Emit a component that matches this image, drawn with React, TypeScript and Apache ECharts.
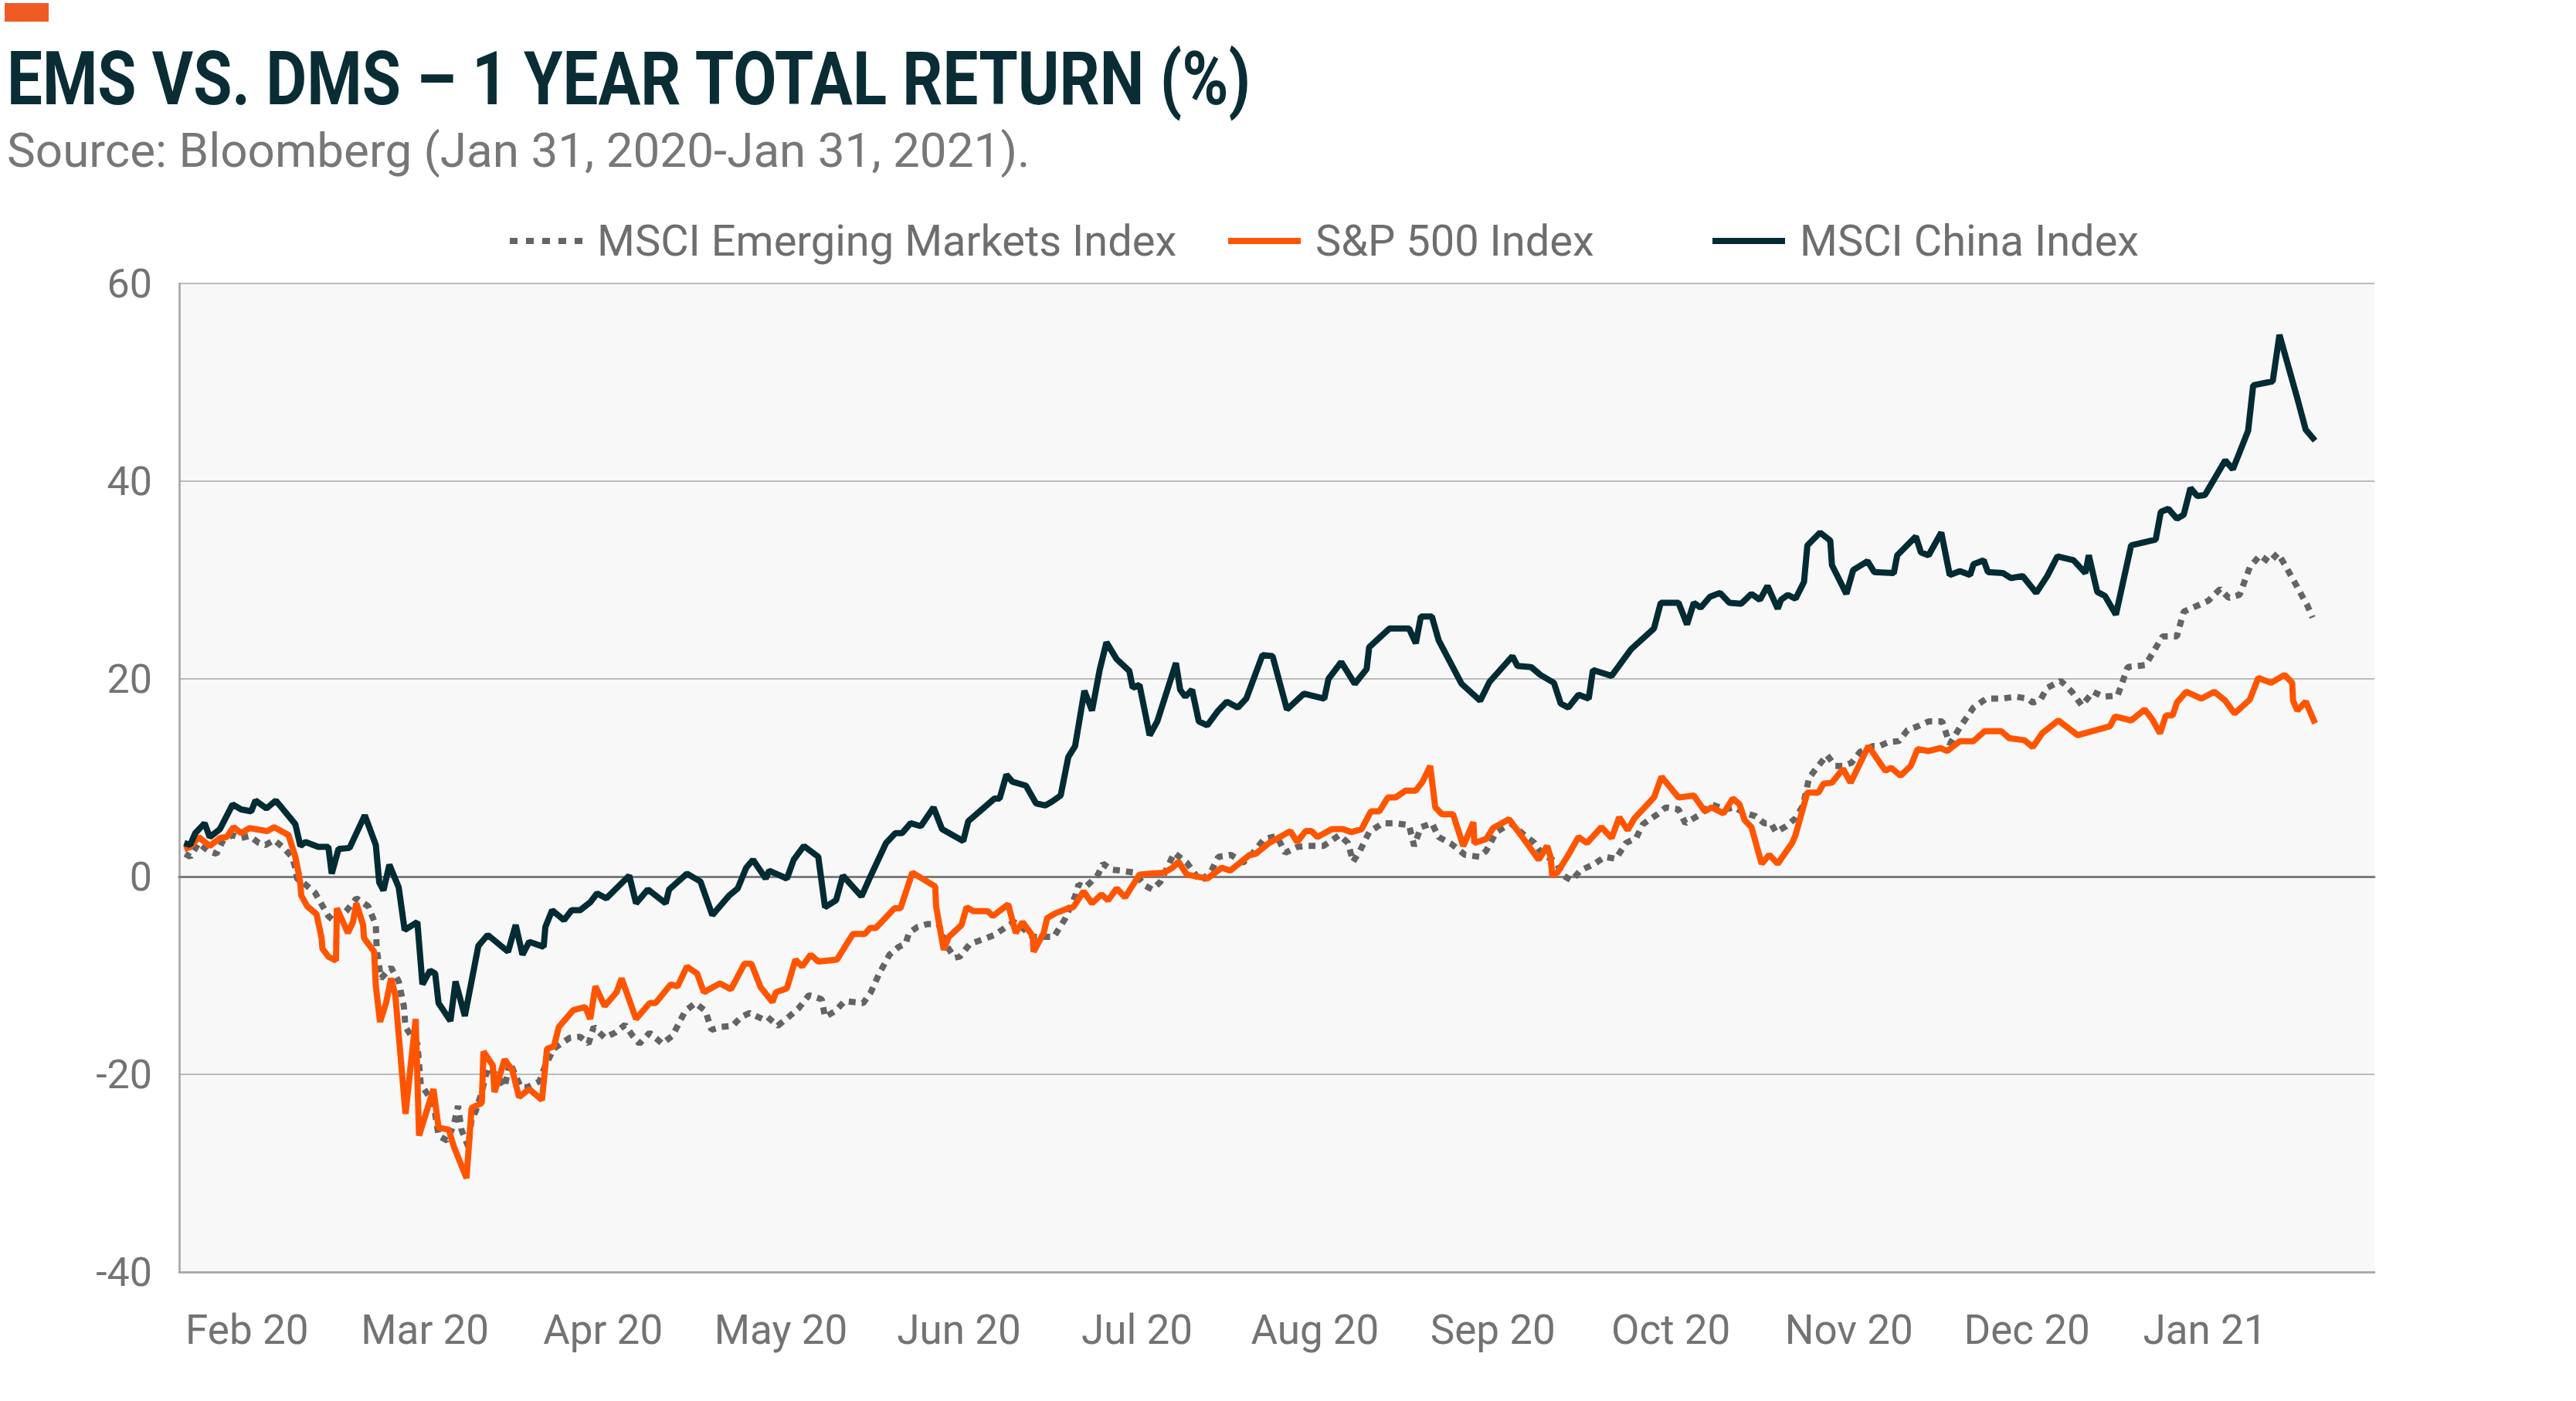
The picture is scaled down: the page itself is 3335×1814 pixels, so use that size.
import React, { useEffect, useRef } from "react";
import * as echarts from "echarts";

// x = trading-day index from Jan 31, 2020 ; y = total return (%)
const monthLabels = ["Feb 20", "Mar 20", "Apr 20", "May 20", "Jun 20", "Jul 20", "Aug 20", "Sep 20", "Oct 20", "Nov 20", "Dec 20", "Jan 21"];
const monthLabelDays = [8, 29, 50, 71, 92, 113, 134, 155, 176, 197, 218, 239];
const yTicks = [-40, -20, 0, 20, 40, 60];

const seriesNames = ["MSCI Emerging Markets Index", "S&P 500 Index", "MSCI China Index"];

const emIndex: [number, number][] = [
  [0.7, 2.3], [1.3, 2.0], [2.3, 3.4], [3.4, 2.6], [4.4, 2.3], [5.2, 3.7], [6.3, 4.2], [7.3, 3.9], [8.3, 4.1], [9.4, 3.4],
  [10.2, 3.2], [11.2, 3.7], [12.2, 3.0], [13.3, 2.0], [13.7, 0.9], [13.9, -0.2], [14.9, -0.8], [16.0, -1.6], [17.6, -4.0], [18.4, -4.6],
  [19.7, -3.5], [20.9, -2.2], [22.3, -3.0], [23.2, -4.9], [23.3, -7.3], [23.8, -10.3], [25.0, -9.2], [25.9, -10.6], [26.5, -13.1], [26.7, -15.2],
  [27.5, -16.3], [28.1, -16.9], [28.5, -21.0], [30.0, -22.9], [30.6, -26.2], [31.6, -26.7], [32.4, -25.1], [32.9, -23.2], [33.3, -25.6], [34.1, -27.3],
  [34.5, -24.5], [35.0, -23.7], [35.7, -21.8], [36.4, -19.3], [37.6, -20.2], [38.4, -21.3], [39.0, -18.8], [40.3, -21.3], [41.1, -21.3], [42.5, -20.7],
  [43.2, -19.1], [44.2, -17.4], [46.1, -16.3], [47.3, -16.2], [48.3, -16.9], [48.9, -15.2], [50.2, -16.3], [51.4, -15.8], [52.6, -15.0], [53.5, -16.1],
  [54.3, -16.9], [55.5, -15.8], [57.0, -16.9], [58.2, -16.1], [59.7, -13.6], [60.9, -12.8], [62.1, -13.6], [62.8, -15.5], [64.0, -15.2], [65.3, -15.1],
  [66.3, -14.2], [67.3, -13.8], [68.8, -14.4], [69.4, -14.2], [70.6, -15.1], [71.9, -14.2], [73.1, -13.3], [74.3, -12.0], [75.8, -12.4], [76.2, -14.2],
  [77.4, -13.6], [78.5, -12.6], [80.7, -12.8], [81.6, -11.7], [82.6, -9.8], [83.8, -7.9], [84.9, -7.1], [85.7, -6.8], [86.1, -5.7], [87.1, -5.1],
  [88.3, -4.8], [89.6, -4.8], [90.4, -6.8], [91.5, -8.2], [92.1, -8.1], [93.3, -6.8], [95.0, -6.3], [96.2, -5.9], [97.4, -5.2], [98.5, -4.6],
  [99.5, -5.2], [100.7, -6.1], [101.9, -6.1], [103.2, -6.1], [104.5, -4.3], [105.7, -2.0], [106.1, -0.8], [106.9, -1.1], [107.5, -0.6], [108.4, 0.2],
  [109.0, 1.3], [110.0, 0.7], [111.2, 0.6], [112.7, 0.4], [113.9, -0.9], [114.8, -1.3], [115.8, -0.5], [116.4, 0.6], [117.4, 2.4], [118.9, 1.4],
  [120.5, -0.5], [121.8, 0.6], [122.6, 2.0], [124.1, 2.2], [125.5, 1.4], [126.7, 2.4], [128.0, 3.8], [129.5, 4.1], [130.5, 2.4], [131.9, 3.0],
  [133.1, 3.1], [135.0, 3.1], [136.9, 4.2], [137.9, 3.4], [138.5, 1.5], [139.3, 2.6], [140.4, 4.5], [142.0, 5.4], [143.5, 5.4], [145.1, 5.2],
  [145.7, 3.1], [146.5, 5.0], [147.8, 5.4], [148.6, 4.0], [150.1, 3.3], [151.7, 2.2], [153.4, 2.0], [154.2, 2.6], [155.4, 4.5], [157.1, 5.4],
  [158.7, 4.2], [159.9, 3.4], [160.8, 2.3], [162.4, 1.5], [163.3, 0.1], [164.3, -0.4], [165.3, 0.6], [167.0, 1.3], [168.2, 2.0], [169.5, 1.8],
  [170.7, 3.4], [171.9, 3.9], [172.7, 5.3], [174.4, 6.3], [175.4, 7.0], [176.9, 6.8], [177.7, 5.4], [179.3, 6.2], [180.8, 7.3], [182.4, 6.8],
  [183.5, 7.0], [184.5, 6.5], [186.0, 6.1], [187.0, 5.4], [187.8, 5.4], [188.4, 4.5], [189.6, 5.1], [190.7, 5.9], [191.6, 7.2], [192.3, 10.0],
  [193.4, 11.2], [194.4, 12.3], [195.4, 11.2], [196.3, 11.2], [197.3, 11.5], [198.3, 12.6], [199.8, 13.2], [200.6, 13.2], [201.6, 13.6], [202.9, 13.7],
  [203.9, 14.8], [205.1, 15.2], [206.4, 15.7], [208.0, 15.7], [208.9, 13.4], [210.1, 15.1], [211.7, 17.1], [213.2, 18.0], [215.0, 18.0], [216.7, 18.2],
  [218.1, 18.0], [218.7, 17.6], [219.6, 17.9], [220.4, 19.1], [222.0, 19.8], [223.3, 18.7], [224.5, 17.3], [225.8, 18.7], [227.0, 18.2], [228.7, 18.3],
  [229.9, 21.2], [232.0, 21.4], [234.0, 24.3], [235.7, 24.3], [236.5, 26.8], [238.1, 27.4], [239.4, 27.9], [240.8, 29.1], [241.8, 28.2], [243.1, 28.5],
  [244.3, 31.3], [245.5, 32.5], [246.6, 31.8], [247.6, 32.7], [248.4, 31.6], [249.7, 29.6], [251.1, 27.4], [251.7, 26.2],
];

const sp500Index: [number, number][] = [
  [0.6, 2.8], [1.3, 3.0], [2.3, 4.0], [3.6, 3.1], [4.8, 3.9], [5.6, 4.0], [6.4, 5.0], [7.3, 4.4], [8.3, 4.9], [10.4, 4.6],
  [11.2, 5.0], [12.9, 4.2], [13.7, 2.0], [14.1, 0.3], [14.3, -0.8], [14.4, -1.9], [15.1, -3.0], [16.2, -3.8], [16.8, -6.2], [16.9, -7.3],
  [17.6, -8.1], [18.5, -8.5], [18.6, -3.2], [19.9, -5.7], [20.5, -4.6], [20.9, -2.7], [21.7, -4.9], [21.8, -6.2], [23.0, -7.6], [23.2, -11.1],
  [23.7, -14.7], [24.4, -12.8], [25.0, -10.3], [25.5, -12.0], [26.7, -24.0], [27.9, -14.4], [28.3, -26.2], [30.0, -21.5], [30.6, -25.4], [31.8, -25.6],
  [32.4, -27.3], [33.9, -30.5], [34.5, -23.4], [35.7, -22.9], [35.9, -17.7], [37.0, -19.1], [37.2, -21.8], [38.4, -18.5], [39.3, -19.6], [40.1, -22.3],
  [41.3, -21.5], [42.8, -22.6], [43.4, -17.4], [44.2, -17.2], [44.8, -15.2], [46.5, -13.5], [47.9, -13.2], [48.5, -14.4], [49.1, -11.1], [50.2, -13.1],
  [51.6, -11.7], [52.2, -10.3], [53.9, -14.4], [55.5, -12.8], [56.2, -12.8], [58.0, -10.9], [58.8, -11.1], [59.9, -9.1], [61.1, -9.8], [61.9, -11.7],
  [63.8, -10.8], [65.1, -11.4], [66.7, -8.8], [67.5, -8.8], [68.6, -11.2], [70.0, -12.7], [70.4, -11.7], [71.7, -11.3], [72.7, -8.4], [73.5, -9.1],
  [74.5, -7.9], [75.4, -8.6], [77.6, -8.4], [79.5, -5.8], [80.9, -5.8], [81.5, -5.2], [82.2, -5.2], [84.4, -3.2], [85.1, -3.2], [86.5, 0.4],
  [89.2, -1.0], [89.3, -3.0], [90.2, -7.4], [90.8, -6.1], [92.3, -4.9], [92.9, -3.1], [93.7, -3.5], [95.4, -3.5], [96.0, -4.0], [97.8, -2.8],
  [98.7, -5.7], [99.5, -4.6], [100.7, -6.0], [100.8, -7.6], [102.0, -5.7], [102.4, -4.2], [103.4, -3.7], [104.9, -3.2], [105.5, -3.1], [106.7, -1.5],
  [107.7, -2.7], [108.8, -1.8], [109.6, -2.4], [110.6, -1.2], [111.6, -2.1], [113.3, 0.2], [114.5, 0.3], [116.2, 0.4], [117.2, 0.9], [117.9, 1.5],
  [118.9, 0.2], [121.3, -0.2], [123.0, 0.9], [124.0, 0.6], [126.3, 2.2], [127.0, 2.3], [128.6, 3.4], [131.1, 4.6], [131.9, 3.5], [132.9, 4.6],
  [133.6, 4.6], [134.3, 4.0], [136.0, 4.8], [137.3, 4.8], [138.3, 4.5], [139.5, 4.8], [140.6, 6.6], [141.6, 6.6], [142.6, 8.0], [143.5, 8.0],
  [144.7, 8.7], [145.9, 8.7], [146.7, 9.6], [147.6, 11.2], [148.2, 7.0], [149.0, 6.3], [150.3, 6.3], [151.5, 3.1], [152.7, 5.5], [152.8, 3.4],
  [154.2, 3.8], [155.0, 4.9], [156.9, 5.8], [158.3, 4.2], [160.4, 1.7], [161.4, 3.1], [161.8, 2.0], [162.0, 0.1], [162.6, 0.4], [163.9, 2.2],
  [165.1, 4.0], [166.1, 3.4], [167.8, 5.0], [169.0, 3.9], [169.9, 6.0], [170.9, 4.7], [171.7, 5.9], [174.0, 8.0], [174.9, 10.1], [176.9, 8.0],
  [178.7, 8.2], [180.0, 6.6], [180.8, 7.0], [182.2, 6.4], [183.3, 7.9], [184.1, 7.3], [184.7, 5.7], [185.5, 5.0], [186.7, 1.3], [187.6, 2.2],
  [188.6, 1.3], [190.3, 3.4], [190.7, 4.2], [192.1, 8.5], [193.4, 8.5], [194.0, 9.4], [195.0, 9.5], [196.3, 10.9], [197.2, 9.5], [199.3, 13.2],
  [201.3, 10.7], [202.0, 11.0], [203.1, 10.2], [204.3, 11.2], [205.1, 12.9], [206.4, 12.7], [207.8, 13.0], [208.6, 12.7], [210.1, 13.7], [211.7, 13.7],
  [213.0, 14.7], [215.0, 14.7], [215.9, 14.0], [217.7, 13.8], [218.7, 13.1], [219.8, 14.5], [221.7, 15.8], [224.0, 14.3], [227.8, 15.2], [228.4, 16.2],
  [230.3, 15.8], [231.9, 16.9], [232.8, 15.9], [233.7, 14.5], [234.4, 16.3], [235.2, 16.3], [235.7, 17.6], [236.8, 18.7], [238.6, 18.0], [240.1, 18.7],
  [241.4, 17.8], [242.5, 16.5], [244.3, 17.9], [245.3, 20.1], [246.8, 19.6], [248.4, 20.4], [249.3, 19.6], [249.4, 17.8], [249.9, 16.8], [250.9, 17.7],
  [252.0, 15.5],
];

const chinaIndex: [number, number][] = [
  [0.6, 3.4], [1.3, 3.2], [1.9, 4.4], [3.0, 5.4], [3.6, 4.0], [4.8, 4.8], [6.3, 7.3], [7.3, 6.8], [8.5, 6.6], [9.0, 7.7],
  [10.3, 6.9], [11.4, 7.7], [13.7, 5.3], [14.3, 3.1], [14.9, 3.5], [16.4, 3.0], [17.6, 3.0], [18.0, 0.3], [18.8, 2.8], [20.1, 2.9],
  [21.9, 6.2], [23.2, 3.2], [23.6, -0.6], [24.1, -1.4], [24.8, 1.2], [25.9, -1.1], [26.6, -5.4], [28.1, -4.6], [28.7, -10.9], [29.6, -9.5],
  [30.2, -9.8], [30.6, -12.8], [32.0, -14.6], [32.6, -10.6], [33.7, -14.1], [35.3, -7.0], [36.4, -5.9], [38.8, -7.6], [39.7, -4.9], [40.5, -7.9],
  [41.3, -6.6], [43.0, -7.1], [43.2, -5.1], [44.0, -3.4], [45.4, -4.4], [46.3, -3.4], [47.3, -3.4], [48.5, -2.6], [49.3, -1.7], [50.4, -2.2],
  [53.1, 0.1], [53.9, -2.7], [55.3, -1.3], [57.4, -2.7], [57.8, -1.3], [59.9, 0.3], [61.5, -0.5], [62.9, -3.9], [64.9, -1.9], [65.9, -1.2],
  [66.9, 0.9], [67.7, 1.7], [69.2, -0.2], [69.6, 0.6], [71.7, -0.2], [72.5, 1.7], [73.7, 3.1], [75.4, 2.0], [76.2, -3.1], [77.5, -2.4],
  [78.3, 0.1], [80.5, -2.0], [81.6, 0.1], [83.4, 3.4], [84.5, 4.4], [85.3, 4.4], [86.3, 5.4], [87.5, 5.1], [89.0, 7.0], [90.0, 4.8],
  [92.5, 3.6], [93.1, 5.6], [96.2, 7.9], [96.8, 7.9], [97.6, 10.3], [98.3, 9.6], [99.9, 9.2], [101.1, 7.4], [102.2, 7.2], [103.0, 7.6],
  [104.0, 8.2], [104.9, 12.1], [105.7, 13.2], [106.8, 18.8], [107.7, 16.8], [108.6, 20.9], [109.4, 23.7], [110.6, 22.0], [112.1, 20.8], [112.5, 19.1],
  [113.3, 19.4], [114.5, 14.3], [115.4, 15.7], [117.6, 21.6], [118.1, 18.9], [118.7, 18.2], [119.5, 18.9], [120.3, 15.7], [121.3, 15.3], [122.6, 16.8],
  [123.6, 17.7], [124.9, 17.1], [125.9, 18.0], [127.8, 22.4], [129.0, 22.3], [130.7, 16.9], [132.7, 18.5], [135.1, 18.0], [135.6, 20.0], [137.1, 21.7],
  [138.7, 19.5], [140.1, 21.0], [140.4, 23.2], [142.8, 25.1], [145.1, 25.1], [145.9, 23.6], [146.5, 26.3], [147.8, 26.3], [148.6, 23.9], [151.3, 19.5],
  [153.5, 17.8], [154.6, 19.7], [157.3, 22.3], [157.9, 21.3], [159.5, 21.2], [160.6, 20.4], [162.2, 19.6], [163.0, 17.5], [163.9, 17.1], [165.1, 18.4],
  [166.3, 18.0], [166.8, 20.9], [169.0, 20.3], [171.3, 23.0], [174.0, 25.1], [174.8, 27.7], [176.9, 27.7], [177.9, 25.5], [178.7, 27.7], [179.5, 27.2],
  [180.6, 28.3], [181.8, 28.7], [182.9, 27.7], [184.3, 27.6], [185.5, 28.6], [186.5, 28.0], [187.4, 29.4], [188.6, 27.1], [189.0, 28.0], [189.8, 28.5],
  [190.7, 28.1], [191.7, 29.8], [192.1, 33.5], [193.6, 34.8], [194.8, 34.0], [195.0, 31.5], [196.7, 28.6], [197.5, 31.0], [199.2, 31.9], [200.0, 30.8],
  [202.3, 30.7], [202.7, 32.5], [204.9, 34.4], [205.5, 32.8], [206.4, 32.5], [207.9, 34.8], [208.9, 30.5], [210.1, 30.9], [211.3, 30.5], [211.7, 31.6],
  [212.9, 32.0], [213.4, 30.8], [215.2, 30.7], [216.1, 30.2], [217.5, 30.4], [219.1, 28.7], [220.4, 30.4], [221.6, 32.4], [223.5, 32.0], [224.9, 30.7],
  [225.3, 32.5], [226.3, 28.8], [227.2, 28.4], [228.5, 26.5], [230.3, 33.5], [233.2, 34.1], [233.8, 36.9], [234.7, 37.2], [235.7, 36.2], [236.5, 36.6],
  [237.3, 39.3], [238.1, 38.5], [239.0, 38.6], [241.4, 42.1], [242.3, 41.2], [244.1, 45.1], [244.7, 49.7], [247.0, 50.1], [247.8, 54.8], [249.9, 48.4],
  [250.9, 45.2], [252.0, 44.1],
];

const COLORS = { em: "#646464", spx: "#ff5500", china: "#032b33" };
const LABEL_FONT = "Roboto, 'Noto Sans', sans-serif";
const DOT_ICON = "path://M0,0h10v8h-10z M21,0h10v8h-10z M42,0h10v8h-10z M63,0h10v8h-10z M84,0h10v8h-10z";

export default function App() {
  const ref = useRef<HTMLDivElement>(null);

  useEffect(() => {
    document.body.style.margin = "0";
    if (!ref.current) return;
    const chart = echarts.init(ref.current, undefined, { renderer: "svg" });

    const labelMap: Record<number, string> = {};
    monthLabelDays.forEach((d, i) => (labelMap[d] = monthLabels[i]));

    const legendBase = {
      top: 279,
      itemWidth: 94,
      itemHeight: 8,
      textStyle: { color: "#6e6e6e", fontSize: 56, fontFamily: LABEL_FONT, padding: [0, 0, 0, 14] },
    };

    chart.setOption({
      animation: false,
      backgroundColor: "#ffffff",
      graphic: [
        { type: "rect", left: 6, top: 4, shape: { width: 57, height: 24 }, style: { fill: "#f05a24" } },
        {
          type: "text", x: 9, y: 102, scaleX: 0.85,
          style: {
            text: "EMS VS. DMS – 1 YEAR TOTAL RETURN (%)",
            font: "bold 96px Roboto, sans-serif",
            fill: "#0a2d35", verticalAlign: "middle", align: "left",
          },
        },
        {
          type: "text", x: 9, y: 194,
          style: {
            text: "Source: Bloomberg (Jan 31, 2020-Jan 31, 2021).",
            font: "62px Roboto, sans-serif",
            fill: "#777777", verticalAlign: "middle", align: "left",
          },
        },
      ],
      legend: [
        { ...legendBase, left: 655, icon: DOT_ICON, data: [seriesNames[0]] },
        { ...legendBase, left: 1585, icon: "rect", data: [seriesNames[1]] },
        { ...legendBase, left: 2212, icon: "rect", data: [seriesNames[2]] },
      ],
      grid: {
        left: 232, right: 261, top: 367, bottom: 167,
        show: true, backgroundColor: "#f8f8f8", borderWidth: 0,
      },
      xAxis: [
        {
          type: "value", min: 0, max: 259,
          axisLine: { show: true, onZero: false, lineStyle: { color: "#a3a3a3", width: 2.5 } },
          axisTick: { show: false },
          splitLine: { show: false },
          axisLabel: {
            customValues: monthLabelDays,
            formatter: (v: number) => labelMap[Math.round(v)] ?? "",
            color: "#737373", fontSize: 53, fontFamily: LABEL_FONT, margin: 48,
          },
        },
        {
          type: "value", min: 0, max: 259, position: "top",
          axisLine: { show: true, onZero: true, lineStyle: { color: "#7d7d7d", width: 3 } },
          axisTick: { show: false }, axisLabel: { show: false }, splitLine: { show: false },
        },
      ],
      yAxis: {
        type: "value", min: yTicks[0], max: yTicks[yTicks.length - 1], interval: 20,
        axisLine: { show: true, lineStyle: { color: "#a3a3a3", width: 2.5 } },
        axisTick: { show: false },
        splitLine: { show: true, lineStyle: { color: "#a8a8a8", width: 1.5 } },
        axisLabel: { color: "#737373", fontSize: 52, fontFamily: LABEL_FONT, margin: 35 },
      },
      series: [
        {
          name: seriesNames[0], type: "line", data: emIndex, symbol: "none", showSymbol: false,
          lineStyle: { color: COLORS.em, width: 8, type: [9, 8] }, itemStyle: { color: COLORS.em }, z: 3,
        },
        {
          name: seriesNames[1], type: "line", data: sp500Index, symbol: "none", showSymbol: false,
          lineStyle: { color: COLORS.spx, width: 8 }, itemStyle: { color: COLORS.spx }, z: 4,
        },
        {
          name: seriesNames[2], type: "line", data: chinaIndex, symbol: "none", showSymbol: false,
          lineStyle: { color: COLORS.china, width: 8 }, itemStyle: { color: COLORS.china }, z: 5,
        },
      ],
    });

    return () => chart.dispose();
  }, []);

  return <div ref={ref} style={{ width: 3335, height: 1814 }} />;
}
